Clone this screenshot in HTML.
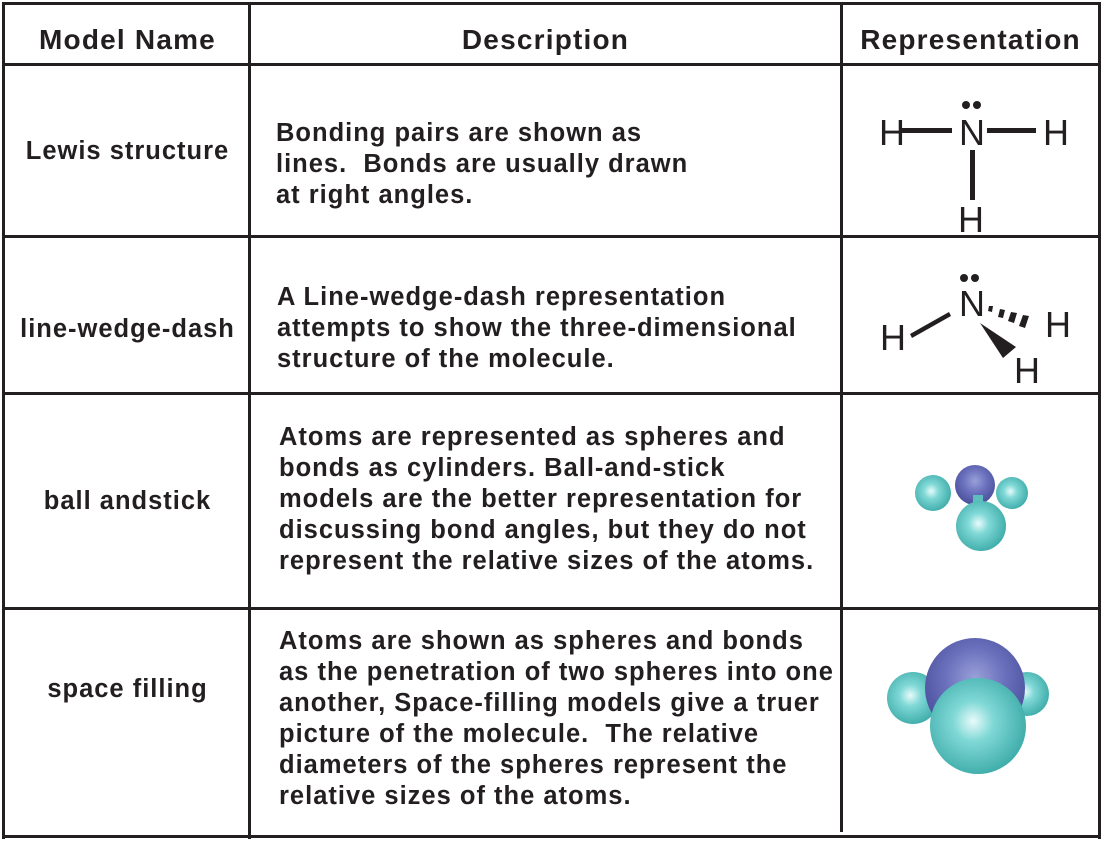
<!DOCTYPE html>
<html><head><meta charset="utf-8"><style>
body{margin:0;width:1103px;height:842px;background:#fff;position:relative;overflow:hidden;font-family:"Liberation Sans",Arial,Helvetica,sans-serif;color:#231f20}
.l{position:absolute;background:#231f20}
.t{position:absolute;font-weight:bold;font-size:25.5px;line-height:31px;white-space:nowrap;letter-spacing:1px}
.h{position:absolute;font-weight:bold;font-size:28px;line-height:30px;text-align:center;white-space:nowrap;letter-spacing:1.2px}
.c{text-align:center}
</style></head><body>
<div class="l" style="left:2px;top:2px;width:1099px;height:3px"></div>
<div class="l" style="left:2px;top:2px;width:3px;height:837px"></div>
<div class="l" style="left:1098px;top:2px;width:3px;height:837px"></div>
<div class="l" style="left:2px;top:835px;width:1099px;height:3px"></div>
<div class="l" style="left:2px;top:63px;width:1099px;height:3px"></div>
<div class="l" style="left:2px;top:235px;width:1099px;height:3px"></div>
<div class="l" style="left:2px;top:392px;width:1099px;height:3px"></div>
<div class="l" style="left:2px;top:607px;width:1099px;height:3px"></div>
<div class="l" style="left:248px;top:2px;width:3px;height:837px"></div>
<div class="l" style="left:840px;top:2px;width:3px;height:830px"></div>

<div class="h" style="left:5px;width:245px;top:25px">Model Name</div>
<div class="h" style="left:250px;width:591px;top:25px">Description</div>
<div class="h" style="left:842px;width:257px;top:25px">Representation</div>

<div class="t c" style="left:5px;width:245px;top:136px">Lewis structure</div>
<div class="t c" style="left:5px;width:245px;top:314px">line-wedge-dash</div>
<div class="t c" style="left:5px;width:245px;top:486px">ball andstick</div>
<div class="t c" style="left:5px;width:245px;top:674px">space filling</div>

<div class="t" style="left:276px;top:118px">Bonding pairs are shown as<br>lines.&nbsp; Bonds are usually drawn<br>at right angles.</div>
<div class="t" style="left:277px;top:282px">A Line-wedge-dash representation<br>attempts to show the three-dimensional<br>structure of the molecule.</div>
<div class="t" style="left:279px;top:422px">Atoms are represented as spheres and<br>bonds as cylinders. Ball-and-stick<br>models are the better representation for<br>discussing bond angles, but they do not<br>represent the relative sizes of the atoms.</div>
<div class="t" style="left:279px;top:626px">Atoms are shown as spheres and bonds<br>as the penetration of two spheres into one<br>another, Space-filling models give a truer<br>picture of the molecule.&nbsp; The relative<br>diameters of the spheres represent the<br>relative sizes of the atoms.</div>

<svg style="position:absolute;left:0;top:0" width="1103" height="842">
<defs>
<radialGradient id="cy" cx="0.45" cy="0.45" r="0.6"><stop offset="0" stop-color="#e8fbfb"/><stop offset="0.35" stop-color="#7fd8d6"/><stop offset="1" stop-color="#3aa9a6"/></radialGradient>
<radialGradient id="bl" cx="0.5" cy="0.4" r="0.6"><stop offset="0" stop-color="#9aa0d8"/><stop offset="0.5" stop-color="#6a70bc"/><stop offset="1" stop-color="#4a4f9a"/></radialGradient>
</defs>
<g font-family="Liberation Sans,Arial,sans-serif" font-size="36" fill="#231f20" text-anchor="middle">
<text x="892" y="145">H</text><text x="972" y="145">N</text><text x="1056" y="145">H</text><text x="971" y="232">H</text>
<text x="972" y="316">N</text><text x="893" y="350">H</text><text x="1058" y="337">H</text><text x="1027" y="383">H</text>
</g>
<g fill="#231f20">
<rect x="902" y="128" width="50" height="5"/><rect x="987" y="128" width="49" height="5"/><rect x="970" y="150" width="5" height="50"/>
<circle cx="966" cy="105" r="4"/><circle cx="977" cy="105" r="4"/>
<circle cx="964" cy="278" r="4"/><circle cx="975" cy="278" r="4"/>
<polygon points="910,334 949,312 951,316 912,338"/>
<polygon points="980,323 1016,347 1003,358"/>
<polygon points="989,306 993,306 992,312 988,311"/>
<polygon points="1000,309 1005,310 1003,318 998,317"/>
<polygon points="1011,312 1017,313 1014,323 1008,321"/>
<polygon points="1023,315 1029,316 1025,328 1019,326"/>
</g>
<circle cx="975" cy="485" r="20" fill="url(#bl)"/>
<circle cx="933" cy="493" r="18" fill="url(#cy)"/>
<circle cx="1012" cy="493" r="16" fill="url(#cy)"/>
<rect x="973" y="495" width="10" height="12" fill="#5cbfbd"/>
<circle cx="981" cy="526" r="25" fill="url(#cy)"/>
<circle cx="913" cy="698" r="26" fill="url(#cy)"/>
<circle cx="1027" cy="694" r="22" fill="url(#cy)"/>
<circle cx="975" cy="688" r="50" fill="url(#bl)"/>
<circle cx="978" cy="726" r="48" fill="url(#cy)"/>
</svg>
</body></html>
